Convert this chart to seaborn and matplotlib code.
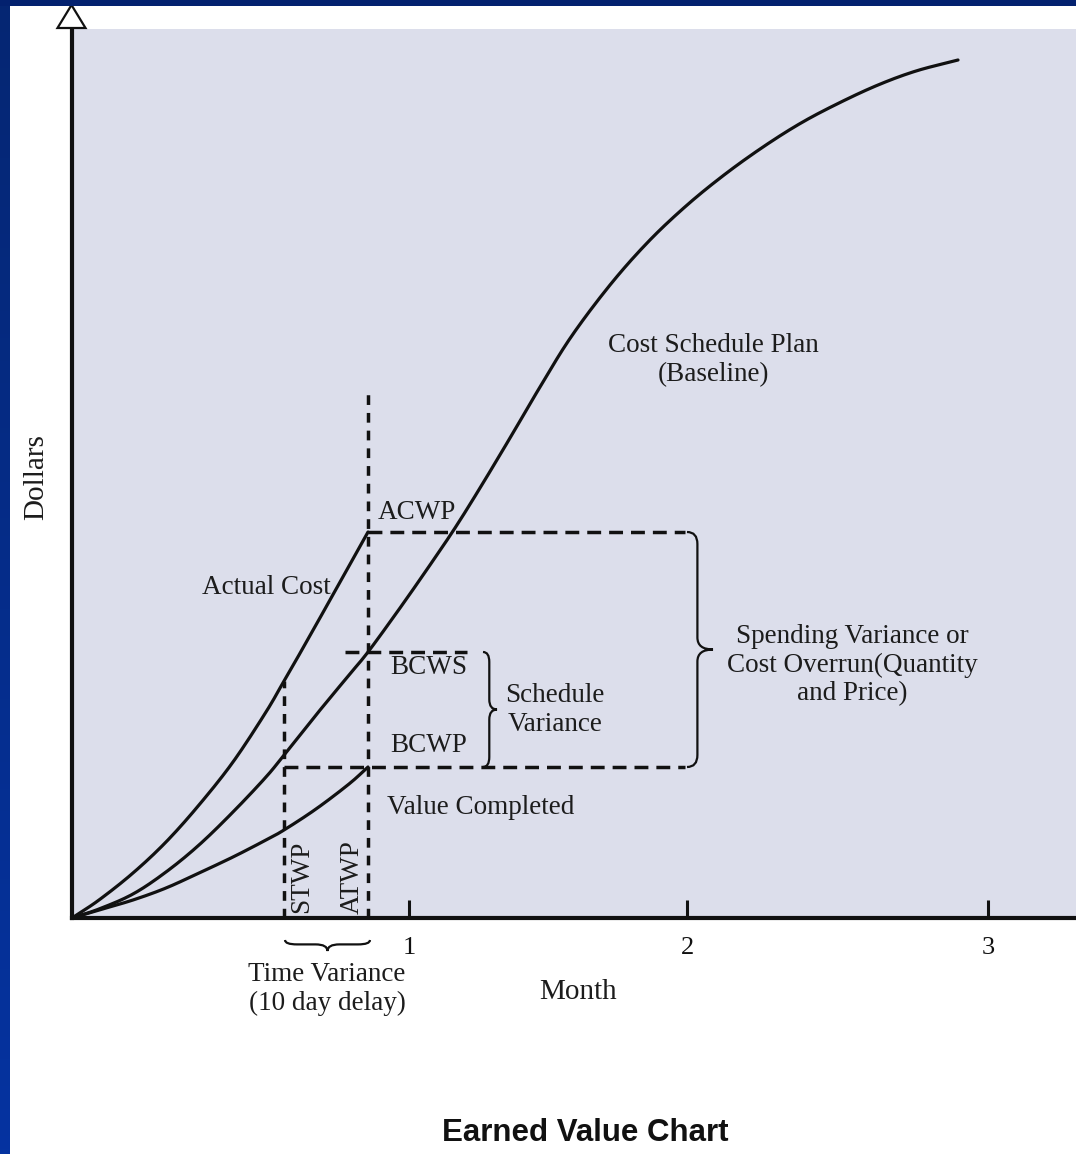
import numpy as np
import pandas as pd
import matplotlib
matplotlib.use("Agg")
import matplotlib.pyplot as plt
from matplotlib.path import Path
from matplotlib.patches import PathPatch, Rectangle, Polygon
import seaborn as sns

# Cumulative spend curves in schematic units (time along x, dollars along y)
plan_t = [0.00, 0.27, 0.61, 0.94, 1.27, 1.61, 1.94, 2.12, 2.44, 2.77, 2.96,
          3.28, 3.58, 3.83, 4.08, 4.38, 4.68, 4.99, 5.38, 5.76, 6.14, 6.52,
          6.91, 7.29, 7.67, 8.06, 8.44, 8.86]
plan_cost = [0.00, 0.09, 0.24, 0.46, 0.73, 1.06, 1.41, 1.63, 2.03, 2.43, 2.66,
             3.10, 3.53, 3.90, 4.30, 4.80, 5.31, 5.81, 6.33, 6.76, 7.12, 7.43,
             7.71, 7.95, 8.15, 8.33, 8.47, 8.58]

actual_t = [0.00, 0.27, 0.61, 0.94, 1.27, 1.61, 1.94, 2.12, 2.27, 2.58, 2.96]
actual_cost = [0.00, 0.18, 0.45, 0.76, 1.13, 1.56, 2.06, 2.37, 2.63, 3.18, 3.86]

earned_t = [0.00, 0.27, 0.61, 0.94, 1.27, 1.61, 1.94, 2.12, 2.44, 2.77, 2.96]
earned_value = [0.00, 0.08, 0.18, 0.30, 0.45, 0.61, 0.78, 0.88, 1.09, 1.34, 1.51]

# Status markers
stwp_t = 2.12
atwp_t = 2.96
acwp = 3.86
bcws = 2.66
bcwp = 1.51
stwp_top = 2.37
atwp_top = 5.28
bcws_span = [2.73, 3.95]
variance_right = 6.13

month_tick_pos = [3.37, 6.15, 9.16]
month_tick_labels = ["1", "2", "3"]

W, H, DPI = 1076, 1154, 100
sns.set_theme(style="white")
plt.rcParams["font.family"] = ["Liberation Serif", "DejaVu Serif"]


def catmull_rom(xs, ys, steps=16):
    """Smooth drawing path that passes through every given point."""
    p = np.column_stack([xs, ys]).astype(float)
    p = np.vstack([2 * p[0] - p[1], p, 2 * p[-1] - p[-2]])
    out = []
    t = np.linspace(0, 1, steps, endpoint=False)[:, None]
    for i in range(1, len(p) - 2):
        p0, p1, p2, p3 = p[i - 1], p[i], p[i + 1], p[i + 2]
        seg = 0.5 * ((2 * p1) + (-p0 + p2) * t
                     + (2 * p0 - 5 * p1 + 4 * p2 - p3) * t ** 2
                     + (-p0 + 3 * p1 - 3 * p2 + p3) * t ** 3)
        out.append(seg)
    out.append(p[-2][None, :])
    out = np.vstack(out)
    return out[:, 0], out[:, 1]


fig = plt.figure(figsize=(W / DPI, H / DPI), dpi=DPI, facecolor="white")

# Frame bars along the left and top edges
bar_ax = fig.add_axes([0, 0, 10 / W, 1])
grad = np.linspace(0, 1, 256)[:, None, None]
top_rgb = np.array([0.02, 0.15, 0.45])
bot_rgb = np.array([0.02, 0.20, 0.63])
bar_ax.imshow(top_rgb * (1 - grad) + bot_rgb * grad, aspect="auto",
              extent=[0, 1, 0, 1], origin="upper")
bar_ax.set_axis_off()
fig.patches.append(Rectangle((0, 1 - 6 / H), 1, 6 / H, transform=fig.transFigure,
                             facecolor="#03216f", edgecolor="none", zorder=5))

ax = fig.add_axes([72 / W, (H - 918) / H, (W - 72) / W, (918 - 29) / H])
ax.set_facecolor("#dcdeeb")
ax.set_xlim(0, (W - 72) / 100)
ax.set_ylim(0, (918 - 29) / 100)

ink = "#111111"
curve_lw = 2.3

series = {
    "plan": (plan_t, plan_cost),
    "actual": (actual_t, actual_cost),
    "earned": (earned_t, earned_value),
}
for name, (tx, vy) in series.items():
    sx, sy = catmull_rom(tx, vy)
    df = pd.DataFrame({"t": sx, "v": sy})
    sns.lineplot(data=df, x="t", y="v", ax=ax, color=ink, lw=curve_lw,
                 legend=False, sort=False, estimator=None,
                 solid_capstyle="round", zorder=3)

dash_kw = dict(color=ink, lw=2.5, zorder=2)
hdash = (4.0, 2.3)
vdash = (2.8, 2.3)

# Status-date verticals
ax.plot([atwp_t, atwp_t], [0, atwp_top], dashes=vdash, **dash_kw)
ax.plot([stwp_t, stwp_t], [0, stwp_top], dashes=vdash, **dash_kw)
# Value levels
ax.plot([atwp_t, variance_right], [acwp, acwp], dashes=hdash, **dash_kw)
ax.plot(bcws_span, [bcws, bcws], dashes=hdash, **dash_kw)
ax.plot([stwp_t, variance_right], [bcwp, bcwp], dashes=hdash, **dash_kw)


def vbrace(x0, x1, y0, y1, r, spine=0.5):
    xm = x0 + (x1 - x0) * spine
    ym = (y0 + y1) / 2
    verts = [(x0, y1), (xm, y1), (xm, y1 - r), (xm, ym + r), (xm, ym), (x1, ym),
             (xm, ym), (xm, ym - r), (xm, y0 + r), (xm, y0), (x0, y0)]
    codes = [Path.MOVETO, Path.CURVE3, Path.CURVE3, Path.LINETO, Path.CURVE3,
             Path.CURVE3, Path.CURVE3, Path.CURVE3, Path.LINETO, Path.CURVE3,
             Path.CURVE3]
    return Path(verts, codes)


def hbrace(y0, y1, x0, x1, r, spine=0.5):
    ym = y0 + (y1 - y0) * spine
    xm = (x0 + x1) / 2
    verts = [(x0, y0), (x0, ym), (x0 + r, ym), (xm - r, ym), (xm, ym), (xm, y1),
             (xm, ym), (xm + r, ym), (x1 - r, ym), (x1, ym), (x1, y0)]
    codes = [Path.MOVETO, Path.CURVE3, Path.CURVE3, Path.LINETO, Path.CURVE3,
             Path.CURVE3, Path.CURVE3, Path.CURVE3, Path.LINETO, Path.CURVE3,
             Path.CURVE3]
    return Path(verts, codes)


brace_kw = dict(facecolor="none", edgecolor=ink, lw=1.6, zorder=3)
ax.add_patch(PathPatch(vbrace(4.11, 4.25, bcwp, bcws, 0.10, 0.45), **brace_kw))
ax.add_patch(PathPatch(vbrace(6.15, 6.41, bcwp, acwp, 0.12, 0.4), **brace_kw))
ax.add_patch(PathPatch(hbrace(-0.22, -0.33, stwp_t + 0.01, atwp_t + 0.02, 0.12, 0.4),
                       clip_on=False, **brace_kw))

# Axes: left spine with open arrow head, bottom spine, inward ticks
for side in ("top", "right"):
    ax.spines[side].set_visible(False)
for side in ("left", "bottom"):
    ax.spines[side].set_color(ink)
    ax.spines[side].set_linewidth(3.0)
ax.add_patch(Polygon([(-0.145, 8.90), (0.135, 8.90), (-0.005, 9.13)], closed=True,
                     facecolor="white", edgecolor=ink, lw=1.6, clip_on=False, zorder=4))

ax.set_xticks(month_tick_pos)
ax.set_xticklabels(month_tick_labels)
ax.set_yticks([])
ax.tick_params(axis="x", bottom=True, direction="in", length=13, width=2.2,
               color=ink, pad=14, labelsize=19, labelcolor=ink)
ax.set_xlabel("")
ax.set_ylabel("")

txt = dict(color="#1c1c1c", fontsize=19.5)
ax.text(6.41, 5.58, "Cost Schedule Plan\n(Baseline)", ha="center", va="center",
        multialignment="center", **txt)
ax.text(2.59, 3.31, "Actual Cost", ha="right", va="center", **txt)
ax.text(3.06, 4.06, "ACWP", ha="left", va="center", **txt)
ax.text(3.18, 2.50, "BCWS", ha="left", va="center", **txt)
ax.text(3.18, 1.72, "BCWP", ha="left", va="center", **txt)
ax.text(4.83, 2.08, "Schedule\nVariance", ha="center", va="center",
        multialignment="center", **txt)
ax.text(7.80, 2.53, "Spending Variance or\nCost Overrun(Quantity\nand Price)",
        ha="center", va="center", multialignment="center", **txt)
ax.text(3.15, 1.10, "Value Completed", ha="left", va="center", **txt)
ax.text(2.30, 0.41, "STWP", ha="center", va="center", rotation=90, **txt)
ax.text(2.80, 0.41, "ATWP", ha="center", va="center", rotation=90, **txt)
ax.text(2.55, -0.71, "Time Variance\n(10 day delay)", ha="center", va="center",
        multialignment="center", clip_on=False, **txt)
ax.text(5.06, -0.74, "Month", ha="center", va="center", clip_on=False,
        color="#1c1c1c", fontsize=21)

fig.text(36 / W, 1 - 477 / H, "Dollars", rotation=90, ha="center", va="center",
         color="#1c1c1c", fontsize=21)
fig.text(585 / W, 1 - 1133 / H, "Earned Value Chart", ha="center", va="center",
         fontsize=22.5, fontweight="bold", color="#111111",
         family=["Liberation Sans", "DejaVu Sans"])

fig.savefig("out.png", dpi=DPI, facecolor="white")
